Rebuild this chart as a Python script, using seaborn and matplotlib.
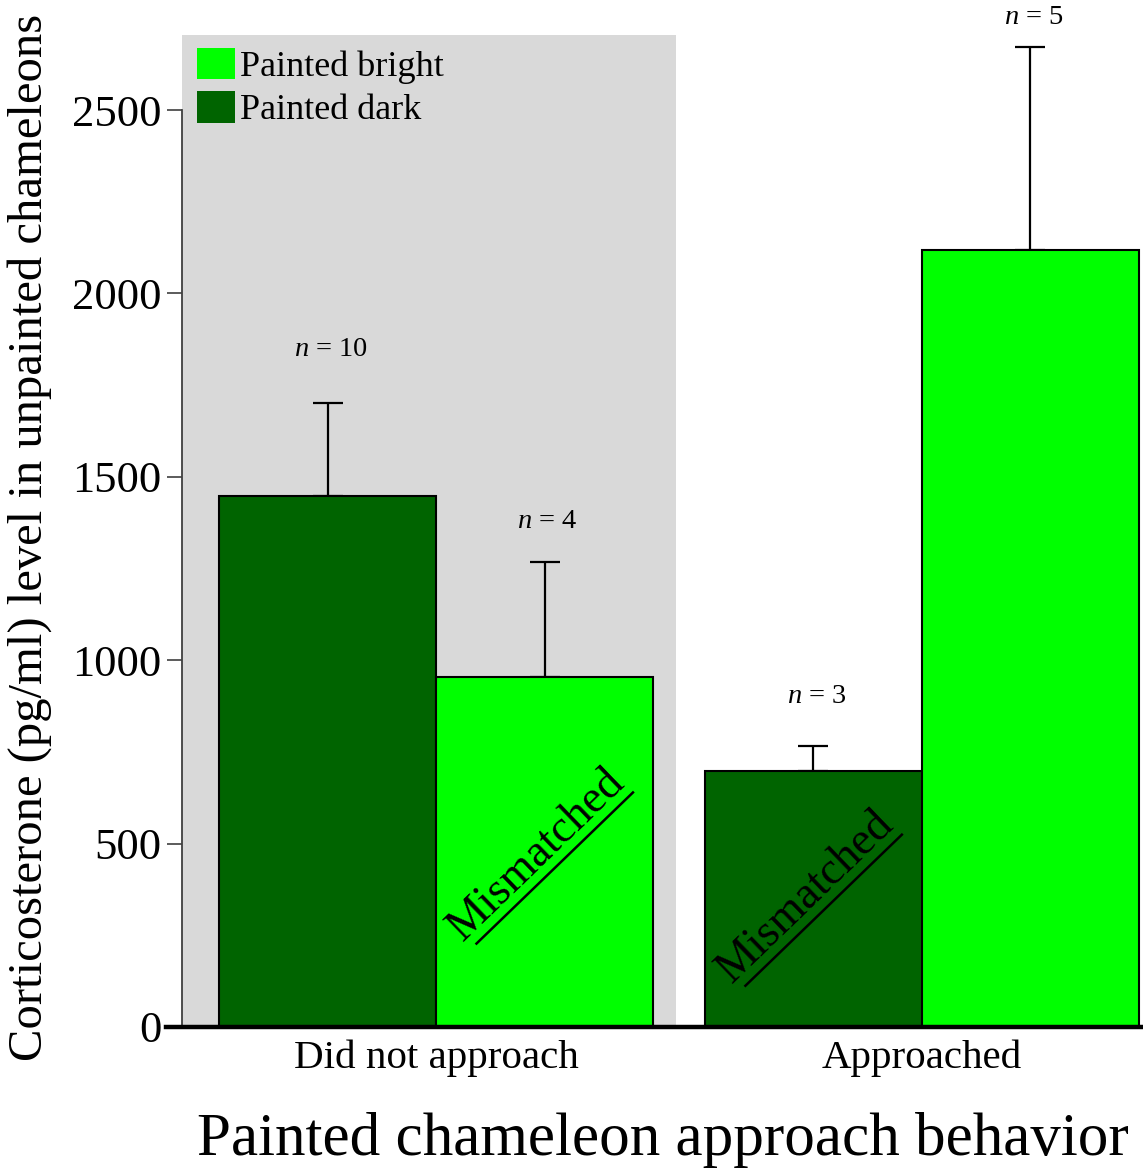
import matplotlib
matplotlib.use("Agg")
import matplotlib.pyplot as plt
import seaborn as sns
import pandas as pd
import numpy as np
from matplotlib.patches import Patch, Rectangle

# ---- data ----
behaviors = ["Did not approach", "Approached"]
colour_groups = ["Painted dark", "Painted bright"]
dark_means = [1448, 698]
bright_means = [955, 2118]
dark_err_upper = [253, 68]
bright_err_upper = [314, 554]
dark_n = [10, 3]
bright_n = [4, 5]
dark_n_label_y = [1846, 900]
bright_n_label_y = [1377, 2751]
mismatch_label_y = {("Did not approach", "Painted bright"): 469,
                    ("Approached", "Painted dark"): 354}

BRIGHT = "#00ff00"
DARK = "#006400"
GRAY = "#d9d9d9"

df = pd.DataFrame({
    "behavior": behaviors * 2,
    "group": ["Painted dark"] * 2 + ["Painted bright"] * 2,
    "value": dark_means + bright_means,
})

sns.set_theme(style="white")
plt.rcParams["font.family"] = ["Liberation Serif", "DejaVu Serif"]
plt.rcParams["mathtext.fontset"] = "custom"
plt.rcParams["mathtext.it"] = "Liberation Serif:italic"
plt.rcParams["mathtext.rm"] = "Liberation Serif"
for k in ["text.color", "axes.labelcolor", "xtick.color", "ytick.color"]:
    plt.rcParams[k] = "black"

fig = plt.figure(figsize=(11.43, 11.73), dpi=100)
ax = fig.add_axes([182 / 1143, 1 - 1027 / 1173, 1 - 182 / 1143, 1027 / 1173])

sns.barplot(data=df, x="behavior", y="value", hue="group",
            order=behaviors, hue_order=colour_groups,
            palette={"Painted dark": DARK, "Painted bright": BRIGHT},
            saturation=1, width=0.893, errorbar=None, edgecolor="black",
            linewidth=1.5, legend=False, ax=ax, zorder=2)

xlim_left, xlim_right = -0.523, 1.455
ax.set_xlim(xlim_left, xlim_right)
ax.set_ylim(0, 2800)

# gray background for the "did not approach" group
ax.add_patch(Rectangle((xlim_left, 0), 0.494 - xlim_left, 2705,
                       facecolor=GRAY, edgecolor="none", zorder=0))

# error bars and n labels
errs = {"Painted dark": dark_err_upper, "Painted bright": bright_err_upper}
means = {"Painted dark": dark_means, "Painted bright": bright_means}
ns = {"Painted dark": dark_n, "Painted bright": bright_n}
nys = {"Painted dark": dark_n_label_y, "Painted bright": bright_n_label_y}
for cont, grp in zip(ax.containers, colour_groups):
    for i, bar in enumerate(cont):
        xc = bar.get_x() + bar.get_width() / 2
        ax.errorbar([xc], [means[grp][i]], yerr=[[0], [errs[grp][i]]],
                    fmt="none", ecolor="black", elinewidth=1.6,
                    capsize=11, capthick=1.6, zorder=1)
        ax.text(xc + 3 / 486, nys[grp][i], f"$n$ = {ns[grp][i]}", ha="center",
                va="center", fontsize=20.5, color="black", zorder=3)
        key = (behaviors[i], grp)
        if key in mismatch_label_y:
            ty = mismatch_label_y[key]
            tx = xc - 8 / 486
            ang = 44
            ax.text(tx, ty, "Mismatched", rotation=ang, ha="center",
                    va="center", rotation_mode="anchor", fontsize=33,
                    color="black", zorder=3)
            # underline: offset perpendicular in display space
            cx, cy = ax.transData.transform((tx, ty))
            th = np.deg2rad(ang)
            ux, uy = np.cos(th), np.sin(th)
            px, py = np.sin(th), -np.cos(th)
            off = 22
            half = 110
            mx, my = cx + px * off + ux * 4, cy + py * off + uy * 4
            p1 = (mx - ux * half, my - uy * half)
            p2 = (mx + ux * half, my + uy * half)
            inv = ax.transData.inverted()
            d1 = inv.transform(p1)
            d2 = inv.transform(p2)
            ax.plot([d1[0], d2[0]], [d1[1], d2[1]], color="black", lw=1.8,
                    zorder=3, solid_capstyle="butt")

# axes styling
for s in ["top", "right"]:
    ax.spines[s].set_visible(False)
ax.spines["left"].set_bounds(0, 2500)
ax.spines["left"].set_color("#404040")
ax.spines["left"].set_linewidth(1.3)
ax.spines["left"].set_zorder(1)
ax.spines["bottom"].set_color("black")
ax.spines["bottom"].set_linewidth(3.2)
ax.spines["bottom"].set_zorder(4)
ax.spines["bottom"].set_bounds(xlim_left - 16 / 486, xlim_right)

ax.set_yticks([0, 500, 1000, 1500, 2000, 2500])
ax.tick_params(axis="y", length=11, width=1.2, color="#404040",
               labelsize=32, pad=4, left=True, labelcolor="black")
ax.tick_params(axis="x", length=0, labelsize=29.5, pad=9, labelcolor="black")

ax.set_xlabel("Painted chameleon approach behavior", fontsize=44)
ax.set_ylabel("Corticosterone (pg/ml) level in unpainted chameleons",
              fontsize=35)
ax.xaxis.set_label_coords(0.5, -0.083)
ax.yaxis.set_label_coords(-0.135, 0.477)
ax.grid(False)
ax.set_facecolor("white")

handles = [Patch(facecolor=BRIGHT, edgecolor="none", label="Painted bright"),
           Patch(facecolor=DARK, edgecolor="none", label="Painted dark")]
ax.legend(handles=handles, loc="upper left", bbox_to_anchor=(0.0156, 0.953),
          frameon=False, fontsize=26, handlelength=1.05, handleheight=0.95,
          handletextpad=0.15, labelspacing=0.2, borderpad=0, borderaxespad=0,
          labelcolor="black")

fig.savefig("out.png", dpi=100)
